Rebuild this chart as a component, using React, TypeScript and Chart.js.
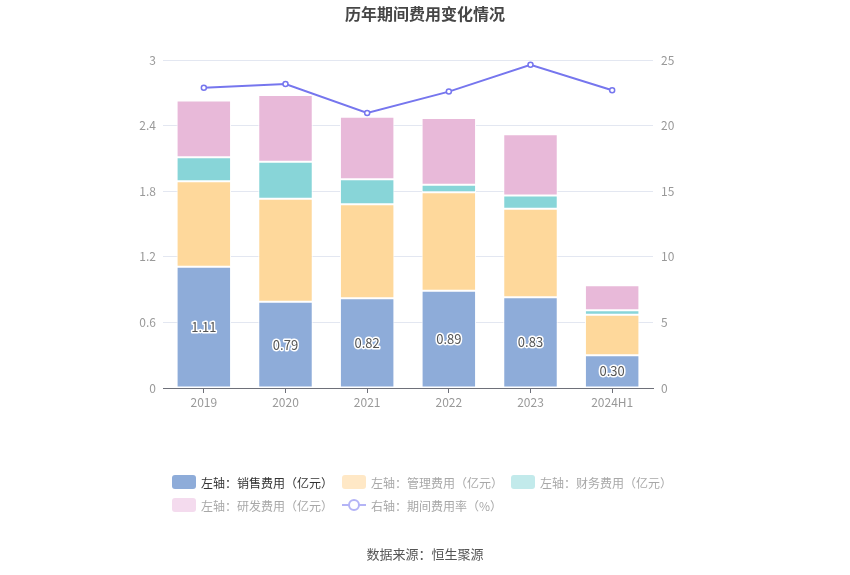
import React, { useEffect, useRef } from "react";
import { Chart, registerables } from "chart.js";

Chart.register(...registerables);

const categories = ["2019", "2020", "2021", "2022", "2023", "2024H1"];
const salesExp = [1.11, 0.79, 0.82, 0.89, 0.83, 0.3];
const adminExp = [0.78, 0.94, 0.86, 0.9, 0.81, 0.37];
const finExp = [0.22, 0.34, 0.23, 0.07, 0.12, 0.04];
const rdExp = [0.52, 0.61, 0.57, 0.61, 0.56, 0.23];
const expenseRate = [22.89, 23.17, 20.96, 22.59, 24.64, 22.69];
const leftTicks = [0, 0.6, 1.2, 1.8, 2.4, 3];
const rightTicks = [0, 5, 10, 15, 20, 25];

const FONT = '"Noto Sans CJK SC", "Noto Sans", sans-serif';

const legendItems = [
  { label: "左轴：销售费用（亿元）", color: "#8eacd9", text: "#333333", type: "box", x: 172, y: 482 },
  { label: "左轴：管理费用（亿元）", color: "#ffe8c6", text: "#a8a8a8", type: "box", x: 342, y: 482 },
  { label: "左轴：财务费用（亿元）", color: "#c2eaeb", text: "#a8a8a8", type: "box", x: 511, y: 482 },
  { label: "左轴：研发费用（亿元）", color: "#f4dbee", text: "#a8a8a8", type: "box", x: 172, y: 505 },
  { label: "右轴：期间费用率（%）", color: "#b4b4f6", text: "#a8a8a8", type: "line", x: 342, y: 505 },
];

const decorPlugin = {
  id: "decor",
  afterDatasetsDraw(chart: any) {
    const ctx = chart.ctx;
    // bar value labels on sales series
    const meta = chart.getDatasetMeta(0);
    ctx.save();
    ctx.font = `13px ${FONT}`;
    ctx.textAlign = "center";
    ctx.textBaseline = "middle";
    ctx.lineJoin = "round";
    meta.data.forEach((el: any, i: number) => {
      const x = el.x;
      const y = (el.y + el.base) / 2;
      const t = salesExp[i].toFixed(2);
      ctx.lineWidth = 3;
      ctx.strokeStyle = "#ffffff";
      ctx.strokeText(t, x, y);
      ctx.fillStyle = "#555555";
      ctx.fillText(t, x, y);
    });
    ctx.restore();
  },
  afterDraw(chart: any) {
    const ctx = chart.ctx;
    ctx.save();
    // title
    ctx.font = `bold 16px ${FONT}`;
    ctx.fillStyle = "#464646";
    ctx.textAlign = "center";
    ctx.textBaseline = "middle";
    ctx.fillText("历年期间费用变化情况", 425, 14);
    // source
    ctx.font = `13px ${FONT}`;
    ctx.fillStyle = "#555555";
    ctx.fillText("数据来源：恒生聚源", 425, 554);
    // legend
    ctx.textAlign = "left";
    ctx.font = `12px ${FONT}`;
    legendItems.forEach((it) => {
      if (it.type === "box") {
        ctx.fillStyle = it.color;
        ctx.beginPath();
        (ctx as any).roundRect(it.x, it.y - 7, 24, 14, 3);
        ctx.fill();
      } else {
        ctx.strokeStyle = it.color;
        ctx.lineWidth = 2;
        ctx.beginPath();
        ctx.moveTo(it.x, it.y);
        ctx.lineTo(it.x + 24, it.y);
        ctx.stroke();
        ctx.beginPath();
        ctx.arc(it.x + 12, it.y, 5, 0, Math.PI * 2);
        ctx.fillStyle = "#ffffff";
        ctx.fill();
        ctx.stroke();
      }
      ctx.fillStyle = it.text;
      ctx.fillText(it.label, it.x + 29, it.y + 1);
    });
    ctx.restore();
  },
};

export default function App() {
  const ref = useRef<HTMLCanvasElement>(null);
  useEffect(() => {
    document.body.style.margin = "0";
    const canvas = ref.current!;
    const barCommon = {
      type: "bar" as const,
      yAxisID: "y",
      stack: "s",
      borderColor: "#ffffff",
      borderWidth: 1,
      borderSkipped: false,
      barPercentage: 0.667,
      categoryPercentage: 1,
    };
    const chart = new Chart(canvas, {
      data: {
        labels: categories,
        datasets: [
          { ...barCommon, label: "销售费用", data: salesExp, backgroundColor: "#8eacd9", order: 2 },
          { ...barCommon, label: "管理费用", data: adminExp, backgroundColor: "#fed89b", order: 2 },
          { ...barCommon, label: "财务费用", data: finExp, backgroundColor: "#88d5d8", order: 2 },
          { ...barCommon, label: "研发费用", data: rdExp, backgroundColor: "#e8b9d9", order: 2 },
          {
            type: "line" as const,
            label: "期间费用率",
            data: expenseRate,
            yAxisID: "y1",
            borderColor: "#7676ee",
            borderWidth: 2,
            pointRadius: 2.5,
            pointBorderWidth: 1.5,
            pointBackgroundColor: "#ffffff",
            pointBorderColor: "#7676ee",
            tension: 0,
            order: 1,
          },
        ] as any,
      },
      options: {
        responsive: false,
        animation: false,
        devicePixelRatio: 1,
        layout: { padding: { left: 113, right: 147, top: 60, bottom: 157 } },
        plugins: {
          legend: { display: false },
          title: { display: false },
          tooltip: { enabled: false },
        },
        scales: {
          x: {
            stacked: true,
            afterFit: (s: any) => { s.height = 30; },
            grid: {
              offset: false,
              drawOnChartArea: false,
              drawTicks: true,
              tickLength: 5,
              color: "#6e7079",
            },
            border: { display: true, color: "#6e7079", width: 1 },
            ticks: { color: "#999999", font: { size: 12, family: FONT }, padding: 2 },
          },
          y: {
            position: "left",
            stacked: true,
            min: 0,
            max: 3,
            afterFit: (s: any) => { s.width = 50; },
            afterBuildTicks: (s: any) => { s.ticks = leftTicks.map((v) => ({ value: v })); },
            grid: { color: "#e3e7f1", drawTicks: false },
            border: { display: false },
            ticks: {
              color: "#999999",
              font: { size: 12, family: FONT },
              padding: 7,
              callback: (v: any) => String(Number(Number(v).toFixed(1))),
            },
          },
          y1: {
            position: "right",
            min: 0,
            max: 25,
            afterFit: (s: any) => { s.width = 50; },
            afterBuildTicks: (s: any) => { s.ticks = rightTicks.map((v) => ({ value: v })); },
            grid: { drawOnChartArea: false, drawTicks: false },
            border: { display: false },
            ticks: { color: "#999999", font: { size: 12, family: FONT }, padding: 8 },
          },
        },
      } as any,
      plugins: [decorPlugin],
    });
    return () => chart.destroy();
  }, []);
  return (
    <div style={{ width: 850, height: 575, background: "#ffffff" }}>
      <canvas ref={ref} width={850} height={575} style={{ display: "block" }} />
    </div>
  );
}
